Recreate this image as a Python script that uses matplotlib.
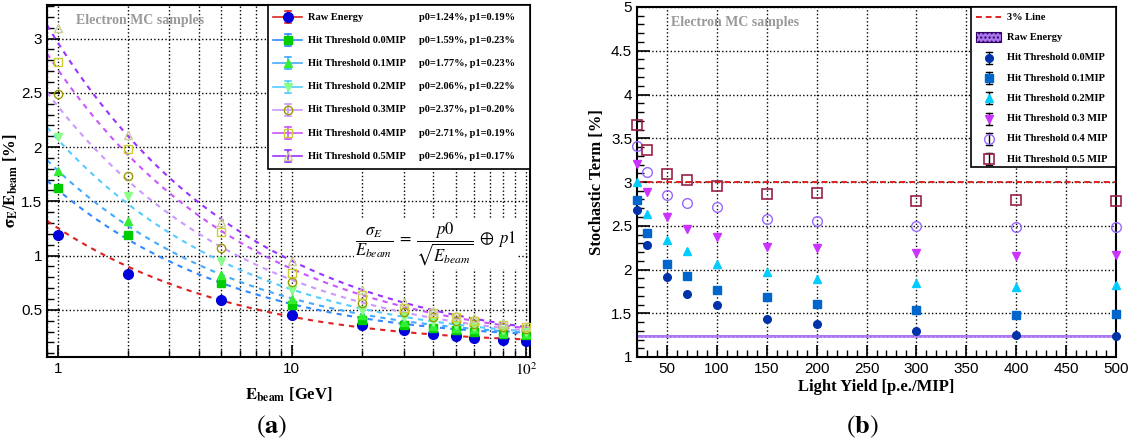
import numpy as np
import matplotlib
matplotlib.use("Agg")
import matplotlib.pyplot as plt
from matplotlib.lines import Line2D
from matplotlib.patches import Rectangle
from matplotlib.ticker import (FixedLocator, MultipleLocator, NullFormatter, LogLocator,
                               FormatStrFormatter)

plt.rcParams["font.family"] = ["Liberation Sans", "DejaVu Sans"]
plt.rcParams["mathtext.fontset"] = "stix"

# ---- panel (a): energy resolution vs beam energy ----
energies = [1, 2, 5, 10, 20, 30, 40, 50, 60, 80, 100]
res_names = ["Raw Energy", "Hit Threshold 0.0MIP", "Hit Threshold 0.1MIP",
             "Hit Threshold 0.2MIP", "Hit Threshold 0.3MIP",
             "Hit Threshold 0.4MIP", "Hit Threshold 0.5MIP"]
res_raw = [1.19, 0.83, 0.59, 0.45, 0.36, 0.31, 0.28, 0.26, 0.24, 0.22, 0.21]
res_t00 = [1.62, 1.19, 0.75, 0.54, 0.41, 0.36, 0.33, 0.31, 0.30, 0.28, 0.27]
res_t01 = [1.78, 1.32, 0.82, 0.60, 0.45, 0.39, 0.35, 0.33, 0.32, 0.29, 0.28]
res_t02 = [2.09, 1.55, 0.95, 0.68, 0.50, 0.43, 0.39, 0.36, 0.34, 0.31, 0.30]
res_t03 = [2.49, 1.73, 1.07, 0.76, 0.56, 0.48, 0.43, 0.40, 0.37, 0.34, 0.32]
res_t04 = [2.78, 1.98, 1.22, 0.84, 0.64, 0.52, 0.47, 0.43, 0.40, 0.36, 0.34]
res_t05 = [3.10, 2.11, 1.31, 0.95, 0.68, 0.57, 0.49, 0.45, 0.42, 0.38, 0.35]
fit_p0 = [1.24, 1.59, 1.77, 2.06, 2.37, 2.71, 2.96]
fit_p1 = [0.19, 0.23, 0.23, 0.22, 0.20, 0.19, 0.17]

# ---- panel (b): stochastic term vs light yield ----
light_yield = [20, 30, 50, 70, 100, 150, 200, 300, 400, 500]
stoch_names = ["Hit Threshold 0.0MIP", "Hit Threshold 0.1MIP", "Hit Threshold 0.2MIP",
               "Hit Threshold 0.3 MIP", "Hit Threshold 0.4 MIP", "Hit Threshold 0.5 MIP"]
st_t00 = [2.68, 2.28, 1.92, 1.72, 1.59, 1.43, 1.38, 1.30, 1.255, 1.245]
st_t01 = [2.79, 2.42, 2.06, 1.93, 1.77, 1.69, 1.61, 1.54, 1.48, 1.49]
st_t02 = [3.00, 2.63, 2.34, 2.21, 2.06, 1.97, 1.89, 1.85, 1.80, 1.82]
st_t03 = [3.21, 2.89, 2.60, 2.46, 2.37, 2.26, 2.25, 2.19, 2.15, 2.17]
st_t04 = [3.41, 3.12, 2.85, 2.76, 2.71, 2.58, 2.56, 2.50, 2.49, 2.49]
st_t05 = [3.65, 3.37, 3.09, 3.02, 2.96, 2.86, 2.87, 2.78, 2.79, 2.78]
raw_band = (1.22, 1.255)
line_3pct = 3.0

fig = plt.figure(figsize=(11.31, 4.45), dpi=100)
serif = ["Liberation Serif", "DejaVu Serif"]

# ================= left panel =================
ax = fig.add_axes([47 / 1131, 88 / 445, 483 / 1131, 352 / 445])
res_series = [res_raw, res_t00, res_t01, res_t02, res_t03, res_t04, res_t05]
marker_style = [
    dict(marker="o", ms=7, mfc="#0000dd", mec="#0000dd"),
    dict(marker="s", ms=5.5, mfc="#00cc00", mec="#00cc00"),
    dict(marker="^", ms=5.5, mfc="#33ee33", mec="#33ee33"),
    dict(marker="v", ms=5.5, mfc="#88ff88", mec="#88ff88"),
    dict(marker="o", ms=6, mfc="none", mec="#999900", mew=1.0),
    dict(marker="s", ms=6, mfc="none", mec="#cccc33", mew=1.0),
    dict(marker="^", ms=6, mfc="none", mec="#cccc99", mew=1.0),
]
line_cols = ["#dd2222", "#3388ff", "#44aaff", "#55ccff", "#cc99ff", "#cc55ff", "#9933ff"]

xf = np.logspace(np.log10(0.9), np.log10(104), 300)
for vals, p0, p1, mk, lc in zip(res_series, fit_p0, fit_p1, marker_style, line_cols):
    ax.plot(xf, np.sqrt(p0 ** 2 / xf + p1 ** 2), ls=(0, (2.5, 2.5)), color=lc, lw=1.5, zorder=2)
    ax.plot(energies, vals, ls="none", zorder=3, **mk)

ax.set_xscale("log")
ax.set_xlim(0.9, 104)
ax.set_ylim(0.065, 3.31)
ax.xaxis.set_major_locator(FixedLocator([1, 10, 100]))
ax.set_xticklabels(["1", "10", r"$10^2$"])
ax.xaxis.set_minor_locator(LogLocator(base=10, subs=np.arange(2, 10)))
ax.xaxis.set_minor_formatter(NullFormatter())
ax.yaxis.set_major_locator(MultipleLocator(0.5))
ax.yaxis.set_major_formatter(FormatStrFormatter("%g"))
ax.yaxis.set_minor_locator(MultipleLocator(0.1))
ax.grid(True, which="major", ls=":", color="black", lw=1)
ax.grid(True, which="minor", axis="x", ls=":", color="black", lw=1)
ax.tick_params(which="both", direction="in", labelsize=11, top=False, right=False)
ax.tick_params(which="major", length=9, width=1.2)
ax.tick_params(which="minor", length=5, width=1)
for s in ax.spines.values():
    s.set_linewidth(1.5)
ax.set_xlabel(r"$\mathbf{E}_{\mathbf{beam}}$ [GeV]", fontsize=12, fontweight="bold",
              family=serif, loc="center", labelpad=5)
ax.set_ylabel(r"$\mathbf{\sigma}_{\mathbf{E}}/\mathbf{E}_{\mathbf{beam}}$ [%]", fontsize=12,
              fontweight="bold", family=serif, labelpad=3)
ax.yaxis.set_label_coords(-0.055, 0.5)
ax.text(0.06, 0.955, "Electron MC samples", transform=ax.transAxes, fontsize=10,
        fontweight="bold", color="#999999", family=serif, va="center")
ax.text(0.805, 0.32, r"$\dfrac{\sigma_{E}}{E_{beam}}\;=\;\dfrac{p0}{\sqrt{E_{beam}}}\;\oplus\;p1$",
        transform=ax.transAxes, fontsize=12, ha="center", va="center", zorder=4,
        bbox=dict(facecolor="white", edgecolor="none", pad=1))

# legend (a)
def px2ax(px, py, x0, x1, y0, y1):
    return (px - x0) / (x1 - x0), (y1 - py) / (y1 - y0)

L = (47, 530, 5, 357)
bx0, by0 = px2ax(268, 169, *L)
bx1, by1 = px2ax(530, 5, *L)
ax.add_patch(Rectangle((bx0, by0), bx1 - bx0, by1 - by0, transform=ax.transAxes,
                       facecolor="white", edgecolor="black", lw=1.2, zorder=5))
pvals = ["p0=%.2f%%, p1=%.2f%%" % (a, b) for a, b in zip(fit_p0, fit_p1)]
for i, (name, pv, mk, lc) in enumerate(zip(res_names, pvals, marker_style, line_cols)):
    py = 17 + i * 23.2
    xa, ya = px2ax(273, py, *L)
    xb, _ = px2ax(302, py, *L)
    xm, _ = px2ax(288, py, *L)
    _, yt = px2ax(288, py - 6, *L)
    _, yb = px2ax(288, py + 6, *L)
    ax.add_line(Line2D([xa, xb], [ya, ya], color=lc, lw=1.2, transform=ax.transAxes, zorder=6))
    ax.add_line(Line2D([xm, xm], [yb, yt], color=lc, lw=1.2, transform=ax.transAxes, zorder=6))
    dx = 3 / 483
    for yy in (yt, yb):
        ax.add_line(Line2D([xm - dx, xm + dx], [yy, yy], color=lc, lw=1.2,
                           transform=ax.transAxes, zorder=6))
    ax.add_line(Line2D([xm], [ya], ls="none", transform=ax.transAxes, zorder=7, **mk))
    xt, _ = px2ax(308, py, *L)
    ax.text(xt, ya, name, transform=ax.transAxes, fontsize=7.5, fontweight="bold",
            family=serif, va="center", zorder=7)
    xp, _ = px2ax(419, py, *L)
    ax.text(xp, ya, pv, transform=ax.transAxes, fontsize=7.5, fontweight="bold",
            family=serif, va="center", zorder=7)

# ================= right panel =================
bx = fig.add_axes([637 / 1131, 88 / 445, 479 / 1131, 350 / 445])
st_series = [st_t00, st_t01, st_t02, st_t03, st_t04, st_t05]
st_style = [
    dict(marker="o", ms=5.5, mfc="#0033aa", mec="#0033aa"),
    dict(marker="s", ms=6, mfc="#0066cc", mec="#0066cc"),
    dict(marker="^", ms=6, mfc="#00ccff", mec="#00ccff"),
    dict(marker="v", ms=6, mfc="#cc33ff", mec="#cc33ff"),
    dict(marker="o", ms=7, mfc="none", mec="#9966ff", mew=1.0),
    dict(marker="s", ms=7, mfc="none", mec="#992244", mew=1.2),
]
bx.fill_between([light_yield[0], light_yield[-1]], raw_band[0], raw_band[1],
                facecolor="#aa77ee", edgecolor="#cc99ff", hatch="....", lw=0, zorder=2)
bx.axhline(line_3pct, color="#dd2222", ls=(0, (3, 2)), lw=1.4, zorder=2)
for vals, mk in zip(st_series, st_style):
    bx.plot(light_yield, vals, ls="none", zorder=4, clip_on=False, **mk)

bx.set_xlim(20, 500)
bx.set_ylim(1, 5)
bx.xaxis.set_major_locator(MultipleLocator(50))
bx.xaxis.set_minor_locator(MultipleLocator(10))
bx.yaxis.set_major_locator(MultipleLocator(0.5))
bx.yaxis.set_major_formatter(FormatStrFormatter("%g"))
bx.yaxis.set_minor_locator(MultipleLocator(0.1))
bx.grid(True, which="major", ls=":", color="black", lw=1)
bx.tick_params(which="both", direction="in", labelsize=11, top=False, right=False)
bx.tick_params(which="major", length=9, width=1.2)
bx.tick_params(which="minor", length=5, width=1)
for s in bx.spines.values():
    s.set_linewidth(1.5)
bx.set_xlabel("Light Yield [p.e./MIP]", fontsize=12, fontweight="bold", family=serif, labelpad=2)
bx.set_ylabel("Stochastic Term [%]", fontsize=12, fontweight="bold", family=serif, labelpad=4)
bx.text(0.07, 0.955, "Electron MC samples", transform=bx.transAxes, fontsize=10,
        fontweight="bold", color="#999999", family=serif, va="center")

R = (637, 1116, 7, 357)
rx0, ry0 = px2ax(971, 167, *R)
rx1, ry1 = px2ax(1116, 7, *R)
bx.add_patch(Rectangle((rx0, ry0), rx1 - rx0, ry1 - ry0, transform=bx.transAxes,
                       facecolor="white", edgecolor="black", lw=1.2, zorder=5))
# 3% line entry
_, y3 = px2ax(0, 17, *R)
xa, _ = px2ax(976, 0, *R)
xb, _ = px2ax(1001, 0, *R)
xt, _ = px2ax(1007, 0, *R)
xm, _ = px2ax(988.5, 0, *R)
bx.add_line(Line2D([xa, xb], [y3, y3], color="#dd2222", ls=(0, (3, 2)), lw=1.4,
                   transform=bx.transAxes, zorder=6))
bx.text(xt, y3, "3% Line", transform=bx.transAxes, fontsize=7.5, fontweight="bold",
        family=serif, va="center", zorder=7)
_, yr = px2ax(0, 37, *R)
_, hr = px2ax(0, 357 - 10, *R)
bx.add_patch(Rectangle((xa, yr - hr / 2), xb - xa, hr, transform=bx.transAxes,
                       facecolor="#aa77ee", edgecolor="#330066", hatch="....", lw=0.8, zorder=6))
bx.text(xt, yr, "Raw Energy", transform=bx.transAxes, fontsize=7.5, fontweight="bold",
        family=serif, va="center", zorder=7)
for i, (name, mk) in enumerate(zip(stoch_names, st_style)):
    py = 58 + i * 20.2
    _, ya = px2ax(0, py, *R)
    _, yt = px2ax(0, py - 6, *R)
    _, yb = px2ax(0, py + 6, *R)
    bx.add_line(Line2D([xm, xm], [yb, yt], color="black", lw=1,
                       transform=bx.transAxes, zorder=6))
    dx = 3 / 479
    for yy in (yt, yb):
        bx.add_line(Line2D([xm - dx, xm + dx], [yy, yy], color="black", lw=1,
                           transform=bx.transAxes, zorder=6))
    bx.add_line(Line2D([xm], [ya], ls="none", transform=bx.transAxes, zorder=7, **mk))
    bx.text(xt, ya, name, transform=bx.transAxes, fontsize=7.5, fontweight="bold",
            family=serif, va="center", zorder=7)

fig.text(272 / 1131, 1 - 427 / 445, r"$(\mathbf{a})$", fontsize=19, ha="center", va="center")
fig.text(862 / 1131, 1 - 427 / 445, r"$(\mathbf{b})$", fontsize=19, ha="center", va="center")

fig.savefig("out.png", dpi=100)
